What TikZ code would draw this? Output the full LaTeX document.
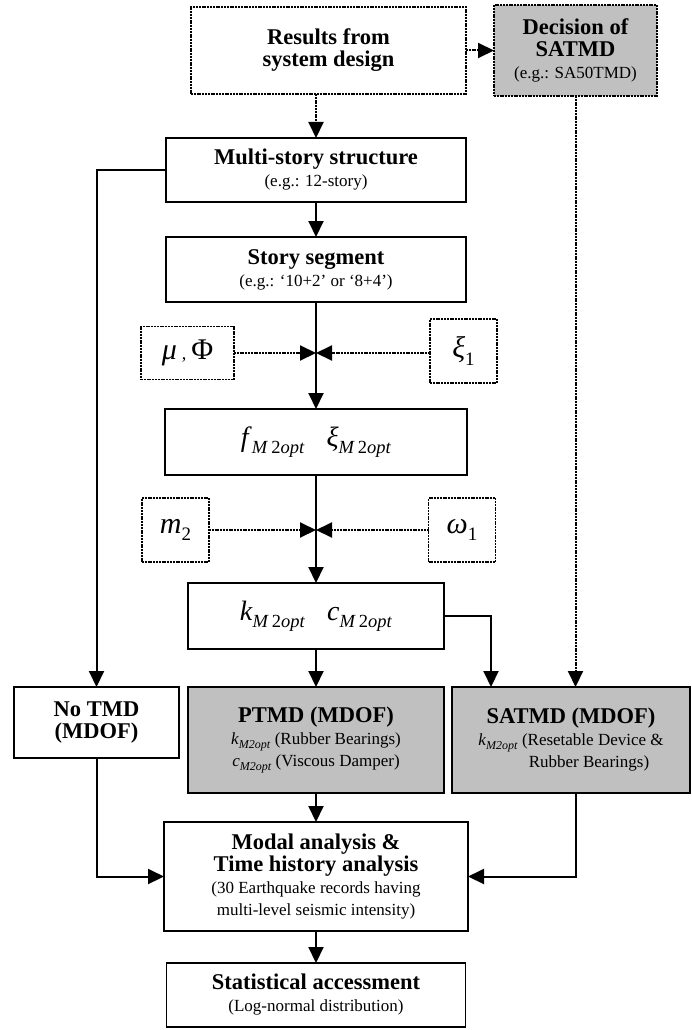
\documentclass[tikz,border=0pt]{standalone}
\usepackage{fontspec}
\setmainfont{Liberation Serif}
\usetikzlibrary{arrows.meta, positioning, calc}

\definecolor{boxgrey}{HTML}{C0C0C0}
\newcommand{\smalltext}{\fontsize{17}{23}\selectfont\mdseries}
\newcommand{\mopt}[1]{\textit{#1}\raisebox{-0.25em}{\fontsize{18.5}{18.5}\selectfont\textit{M}\,2\textit{opt}}}
\newcommand{\kopt}[1]{\textit{#1}\raisebox{-0.2em}{\fontsize{12}{12}\selectfont\textit{M2opt}}}
\newcommand{\vsub}[2]{\textit{#1}\raisebox{-0.25em}{\fontsize{19}{19}\selectfont #2}}

\begin{document}
\begin{tikzpicture}[x=1pt, y=-1pt, >={Triangle[length=16pt,width=15pt]},
    box/.style={rectangle, draw, line width=1.6pt, inner sep=0pt, outer sep=0pt, align=center,
        font=\fontsize{22.5}{22}\selectfont\bfseries},
    dotbox/.style={box, line width=1.8pt, dash pattern=on 2pt off 0.8pt},
    greybox/.style={box, fill=boxgrey},
    varbox/.style={dotbox, minimum width=67pt, minimum height=64pt,
        font=\fontsize{30}{30}\selectfont},
    flow/.style={->, line width=2pt},
    dotflow/.style={->, line width=2pt, dash pattern=on 2pt off 0.8pt}]
    \useasboundingbox (0,0) rectangle (691,1030);

    % Nodes
    \node (res) [dotbox, minimum width=275pt, minimum height=87pt] at (328.5,50.5) {Results from\\system design};
    \node (dec) [dotbox, fill=boxgrey, right=28pt of res, minimum width=163pt, minimum height=91pt] {Decision of\\SATMD\\{\smalltext (e.g.: SA50TMD)}};
    \node (multi) [box, minimum width=300pt, minimum height=64pt] at (316,170) {Multi-story structure\\{\smalltext (e.g.: 12-story)}};
    \node (story) [box, below=35pt of multi, minimum width=300pt, minimum height=65pt] {Story segment\\{\smalltext (e.g.: `10+2' or `8+4')}};
    \node (fbox) [box, below=107pt of story, minimum width=302pt, minimum height=66pt, font=\fontsize{28}{28}\selectfont] {\mopt{f}\hspace{22pt}\mopt{ξ}};
    \node (kbox) [box, below=108pt of fbox, minimum width=256pt, minimum height=66pt, font=\fontsize{28}{28}\selectfont] {\mopt{k}\hspace{22pt}\mopt{c}};
    \node (ptmd) [greybox, below=38pt of kbox, minimum width=256pt, minimum height=106pt] {PTMD (MDOF)\\{\smalltext\kopt{k} (Rubber Bearings)}\\{\smalltext\kopt{c} (Viscous Damper)}};
    \node (satmd) [greybox, right=8pt of ptmd, minimum width=238pt, minimum height=106pt] {SATMD (MDOF)\\{\smalltext\kopt{k} (Resetable Device \&}\\{\smalltext\hspace*{36pt}Rubber Bearings)}};
    \node (notmd) [box, minimum width=165pt, minimum height=71pt] at (96.5,722.5) {No TMD\\(MDOF)};
    \node (modal) [box, below=29pt of ptmd, minimum width=304pt, minimum height=109pt] {Modal analysis \&\\Time history analysis\\{\smalltext (30 Earthquake records having}\\{\smalltext multi-level seismic intensity)}};
    \node (stat) [box, below=32pt of modal, minimum width=299pt, minimum height=64pt] {Statistical accessment\\{\smalltext (Log-normal distribution)}};

    % Parameter boxes
    \node (mu) [varbox, minimum width=93pt, minimum height=53pt] at (187.5,353) {\textit{μ}\,{\fontsize{18}{18}\selectfont,}\,Φ};
    \node (xi) [varbox] at (463.5,351) {\vsub{ξ}{1}};
    \node (m2) [varbox] at (175.5,530) {\vsub{m}{2}};
    \node (om) [varbox] at (462,530) {\vsub{ω}{1}};
    \coordinate (j1) at (316,353);
    \coordinate (j2) at (316,530);

    % Edges
    \draw[dotflow] (res) -- (dec);
    \draw[dotflow] (res.south -| multi.north) -- (multi.north);
    \draw[dotflow] (dec.south) -- (dec.south |- satmd.north);
    \draw[flow] (multi.west) -| (notmd.north);
    \draw[flow] (multi) -- (story);
    \draw[flow] (story) -- (fbox);
    \draw[dotflow] (mu.east) -- (j1);
    \draw[dotflow] (xi.west |- j1) -- (j1);
    \draw[flow] (fbox) -- (kbox);
    \draw[dotflow] (m2.east) -- (j2);
    \draw[dotflow] (om.west) -- (j2);
    \draw[flow] (kbox) -- (ptmd);
    \draw[flow] (kbox.east) -| ([xshift=-80pt]satmd.north);
    \draw[flow] (ptmd) -- (modal);
    \draw[flow] (notmd.south) |- (modal.west);
    \draw[flow] ([xshift=5pt]satmd.south) |- (modal.east);
    \draw[flow] (modal) -- (stat);
\end{tikzpicture}
\end{document}
